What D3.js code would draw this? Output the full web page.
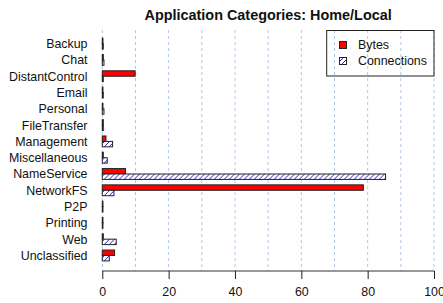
<!DOCTYPE html>
<html><head><meta charset="utf-8">
<script src="https://cdn.jsdelivr.net/npm/d3@7"></script>
<style>body{margin:0;background:#fff}svg{display:block}text{font-family:"Liberation Sans",Arial,sans-serif}</style>
</head><body>
<script>
const categories = ["Backup","Chat","DistantControl","Email","Personal","FileTransfer","Management","Miscellaneous","NameService","NetworkFS","P2P","Printing","Web","Unclassified"];
const bytes = [0.2,0.3,9.9,0.2,0.2,0.3,1.1,0.3,7.0,78.7,0.2,0.2,0.3,3.7];
const connections = [0.3,0.5,0.3,0.3,0.5,0.3,3.1,1.5,85.4,3.5,0.2,0.2,4.2,2.1];
const seriesNames = ["Bytes","Connections"];
const xTicks = [0,20,40,60,80,100];
const gridTicks = [0,10,20,30,40,50,60,70,80,90,100];
const title = "Application Categories: Home/Local";

const W = 443, H = 303;
const svg = d3.select("body").append("svg").attr("width", W).attr("height", H);
const defs = svg.append("defs");
const pat = defs.append("pattern").attr("id","hatch").attr("patternUnits","userSpaceOnUse")
  .attr("width",5).attr("height",5);
pat.append("rect").attr("width",5).attr("height",5).attr("fill","#fff");
pat.append("path").attr("d","M-1,1 L1,-1 M0,5 L5,0 M4,6 L6,4").attr("stroke","#2222cc").attr("stroke-width",1);

const x = d3.scaleLinear().domain([0,100]).range([102.3,434]);
const y = d3.scaleBand().domain(categories).range([38.2,260.9]).paddingInner(1/3).paddingOuter(0);
const ys = d3.scaleBand().domain(seriesNames).range([0, y.bandwidth()]);
const axisY = 271, plotTop = 30;

// grid
svg.append("g").selectAll("line").data(gridTicks).join("line")
  .attr("x1", d=>x(d)).attr("x2", d=>x(d)).attr("y1", plotTop).attr("y2", axisY)
  .attr("stroke","#b4c6e0").attr("stroke-width",1).attr("stroke-dasharray","3,3");

// title
svg.append("text").attr("x", (x(0)+x(100))/2).attr("y", 20).attr("text-anchor","middle")
  .attr("font-weight","bold").attr("font-size",14.4).attr("fill","#111").text(title);

// category labels
svg.append("g").selectAll("text").data(categories).join("text")
  .attr("x", 87.5).attr("y", d=>y(d)+y.bandwidth()/2).attr("dy","0.36em")
  .attr("text-anchor","end").attr("font-size",12.4).attr("fill","#111").text(d=>d);

// bars
const rows = categories.map((c,i)=>({c, vals:[{s:"Bytes",v:bytes[i]},{s:"Connections",v:connections[i]}]}));
const g = svg.append("g").selectAll("g").data(rows).join("g").attr("transform", d=>`translate(0,${y(d.c)})`);
g.selectAll("rect").data(d=>d.vals).join("rect")
  .attr("x", x(0)).attr("y", d=>ys(d.s)).attr("height", ys.bandwidth())
  .attr("width", d=>x(d.v)-x(0))
  .attr("fill", d=>d.s==="Bytes" ? "#ff0000" : "url(#hatch)")
  .attr("stroke","#222").attr("stroke-width",1);

// x axis
const ax = svg.append("g").attr("transform",`translate(0,${axisY})`)
  .call(d3.axisBottom(x).tickValues(xTicks).tickSize(8).tickPadding(8).tickFormat(d3.format("d")));
ax.select(".domain").attr("stroke","#333").attr("d",`M${x(0)},0H${x(100)}`);
ax.selectAll(".tick line").attr("stroke","#222");
ax.selectAll(".tick text").attr("font-size",12.4).attr("fill","#111").attr("font-family","Liberation Sans, Arial, sans-serif");

// legend
const lg = svg.append("g");
lg.append("rect").attr("x",326.7).attr("y",30.5).attr("width",434-326.7).attr("height",45.5)
  .attr("fill","none").attr("stroke","#222").attr("stroke-width",1);
const items = lg.selectAll("g").data(seriesNames).join("g").attr("transform",(d,i)=>`translate(0,${45+i*16})`);
items.append("rect").attr("x",339.5).attr("y",-3.5).attr("width",7).attr("height",7)
  .attr("fill", d=>d==="Bytes"?"#ff0000":"url(#hatch)").attr("stroke","#222");
items.append("text").attr("x",358).attr("y",0).attr("dy","0.36em").attr("font-size",12.4).attr("fill","#111").text(d=>d);
</script>
</body></html>
